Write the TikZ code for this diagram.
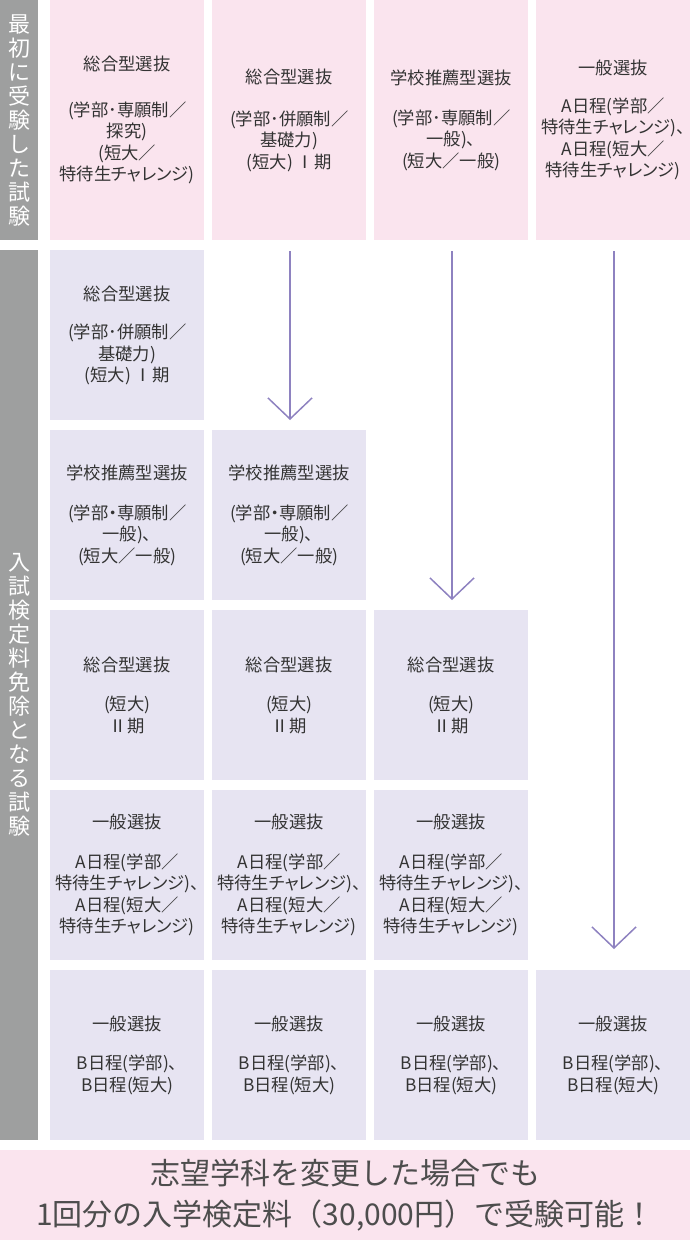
\documentclass[tikz,border=0pt]{standalone}
\usepackage{fontspec}
\usepackage{tikz}
\usetikzlibrary{arrows.meta}

\newfontfamily\boxfont[RawFeature=+palt]{Noto Sans CJK JP}
\newfontfamily\plainfont{Noto Sans CJK JP}

\definecolor{pinkbg}{HTML}{FAE4EE}
\definecolor{lavbg}{HTML}{E7E4F2}
\definecolor{barbg}{HTML}{9E9F9F}
\definecolor{arrowc}{HTML}{8E82C0}
\definecolor{txt}{HTML}{333333}
\definecolor{notetxt}{HTML}{4D4D4D}

\tikzset{
  box/.style={anchor=north west, inner sep=0pt, minimum width=154pt, minimum height=170pt, align=center, text=txt, font=\boxfont\fontsize{17.3}{21.5}\selectfont},
  firstbox/.style={box, fill=pinkbg, minimum height=240pt},
  freebox/.style={box, fill=lavbg},
  sidebar/.style={anchor=north west, inner sep=0pt, minimum width=38pt, fill=barbg, text=white, align=center, font=\plainfont\fontsize{22}{24}\selectfont},
  flow/.style={draw=arrowc, line width=1.5pt, -{Straight Barb[length=21pt, width=44pt]}}
}

\begin{document}
\begin{tikzpicture}[x=1pt, y=-1pt]
\useasboundingbox (0,0) rectangle (690,1240);
%%%  nodes

% side bars
\node [sidebar, minimum height=240pt] (side1) at (0,0) {最\\初\\に\\受\\験\\し\\た\\試\\験};
\node [sidebar, minimum height=890pt] (side2) at (0,250) {入\\試\\検\\定\\料\\免\\除\\と\\な\\る\\試\\験};

% first exam
\node [firstbox] (f1) at (50,0) {総合型選抜\\[24pt](学部･専願制／\\探究)\\(短大／\\特待生チャレンジ)};
\node [firstbox] (f2) at (212,0) {総合型選抜\\[20pt](学部･併願制／\\基礎力)\\(短大) Ⅰ期};
\node [firstbox] (f3) at (374,0) {学校推薦型選抜\\[18pt](学部･専願制／\\一般)、\\(短大／一般)};
\node [firstbox] (f4) at (536,0) {一般選抜\\[16pt]A日程(学部／\\特待生チャレンジ)、\\A日程(短大／\\特待生チャレンジ)};

% fee free exams
\node [freebox] (r2c1) at (50,250) {総合型選抜\\[17pt](学部･併願制／\\基礎力)\\(短大) Ⅰ期};

\node [freebox] (r3c1) at (50,430) {学校推薦型選抜\\[18pt](学部・専願制／\\一般)、\\(短大／一般)};
\node [freebox] (r3c2) at (212,430) {学校推薦型選抜\\[18pt](学部・専願制／\\一般)、\\(短大／一般)};

\node [freebox] (r4c1) at (50,610) {総合型選抜\\[18pt](短大)\\Ⅱ期};
\node [freebox] (r4c2) at (212,610) {総合型選抜\\[18pt](短大)\\Ⅱ期};
\node [freebox] (r4c3) at (374,610) {総合型選抜\\[18pt](短大)\\Ⅱ期};

\node [freebox] (r5c1) at (50,790) {一般選抜\\[18pt]A日程(学部／\\特待生チャレンジ)、\\A日程(短大／\\特待生チャレンジ)};
\node [freebox] (r5c2) at (212,790) {一般選抜\\[18pt]A日程(学部／\\特待生チャレンジ)、\\A日程(短大／\\特待生チャレンジ)};
\node [freebox] (r5c3) at (374,790) {一般選抜\\[18pt]A日程(学部／\\特待生チャレンジ)、\\A日程(短大／\\特待生チャレンジ)};

\node [freebox] (r6c1) at (50,970) {一般選抜\\[18pt]B日程(学部)、\\B日程(短大)};
\node [freebox] (r6c2) at (212,970) {一般選抜\\[18pt]B日程(学部)、\\B日程(短大)};
\node [freebox] (r6c3) at (374,970) {一般選抜\\[18pt]B日程(学部)、\\B日程(短大)};
\node [freebox] (r6c4) at (536,970) {一般選抜\\[18pt]B日程(学部)、\\B日程(短大)};

% note
\node [anchor=north west, inner sep=0pt, minimum width=690pt, minimum height=90pt, fill=pinkbg, align=center, text=notetxt, font=\plainfont\fontsize{30}{41}\selectfont] (note) at (0,1150) {志望学科を変更した場合でも\\1回分の入学検定料（30,000円）で受験可能！};

% arrow ends
\coordinate (s2) at (290,251);
\coordinate (e2) at (290,420);
\coordinate (s3) at (452,251);
\coordinate (e3) at (452,600);
\coordinate (s4) at (614,251);
\coordinate (e4) at (614,949);

%%% edges
\draw (s2) [flow] to (e2);
\draw (s3) [flow] to (e3);
\draw (s4) [flow] to (e4);
\end{tikzpicture}
\end{document}
